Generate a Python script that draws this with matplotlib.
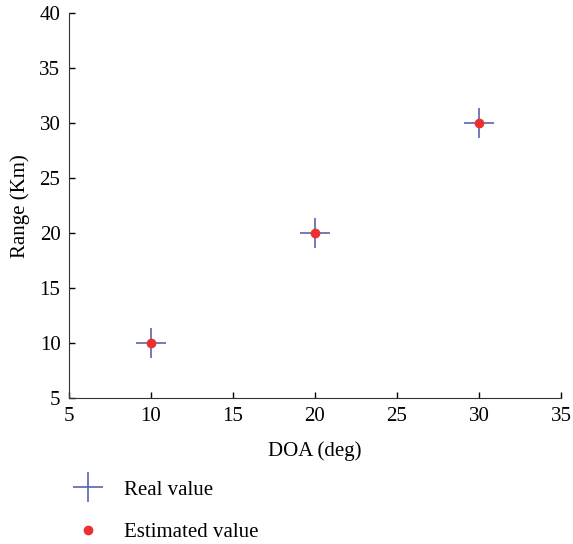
import matplotlib.pyplot as plt

# data
doa_deg = [10, 20, 30]
range_real = [10, 20, 30]
range_est = [10, 20, 30]

xticks = [5, 10, 15, 20, 25, 30, 35]
yticks = [5, 10, 15, 20, 25, 30, 35, 40]

plt.rcParams['font.family'] = ['Liberation Serif', 'DejaVu Serif']

fig = plt.figure(figsize=(5.73, 5.44), dpi=100)
ax = fig.add_axes([0.120, 0.268, 0.859, 0.708])

ax.plot(doa_deg, range_real, linestyle='none', marker='+', markersize=22,
        markeredgewidth=1.2, color='#5566b0', label='Real value')
ax.plot(doa_deg, range_est, linestyle='none', marker='o', markersize=6,
        color='#ec3030', label='Estimated value')

ax.set_xlim(5, 35)
ax.set_ylim(5, 40)
ax.set_xticks(xticks)
ax.set_yticks(yticks)
ax.tick_params(direction='in', length=4, labelsize=15, width=1, pad=6)
ax.spines['top'].set_visible(False)
ax.spines['right'].set_visible(False)
ax.spines['left'].set_color('#333333')
ax.spines['bottom'].set_color('#333333')

ax.set_xlabel('DOA (deg)', fontsize=15, labelpad=11)
ax.set_ylabel('Range (Km)', fontsize=15, labelpad=7)

fig.legend(loc='upper left', bbox_to_anchor=(0.093, 0.152), frameon=False,
           fontsize=15, handlelength=1.5, labelspacing=1.1, handletextpad=1.0)

fig.savefig('out.png', dpi=100)
